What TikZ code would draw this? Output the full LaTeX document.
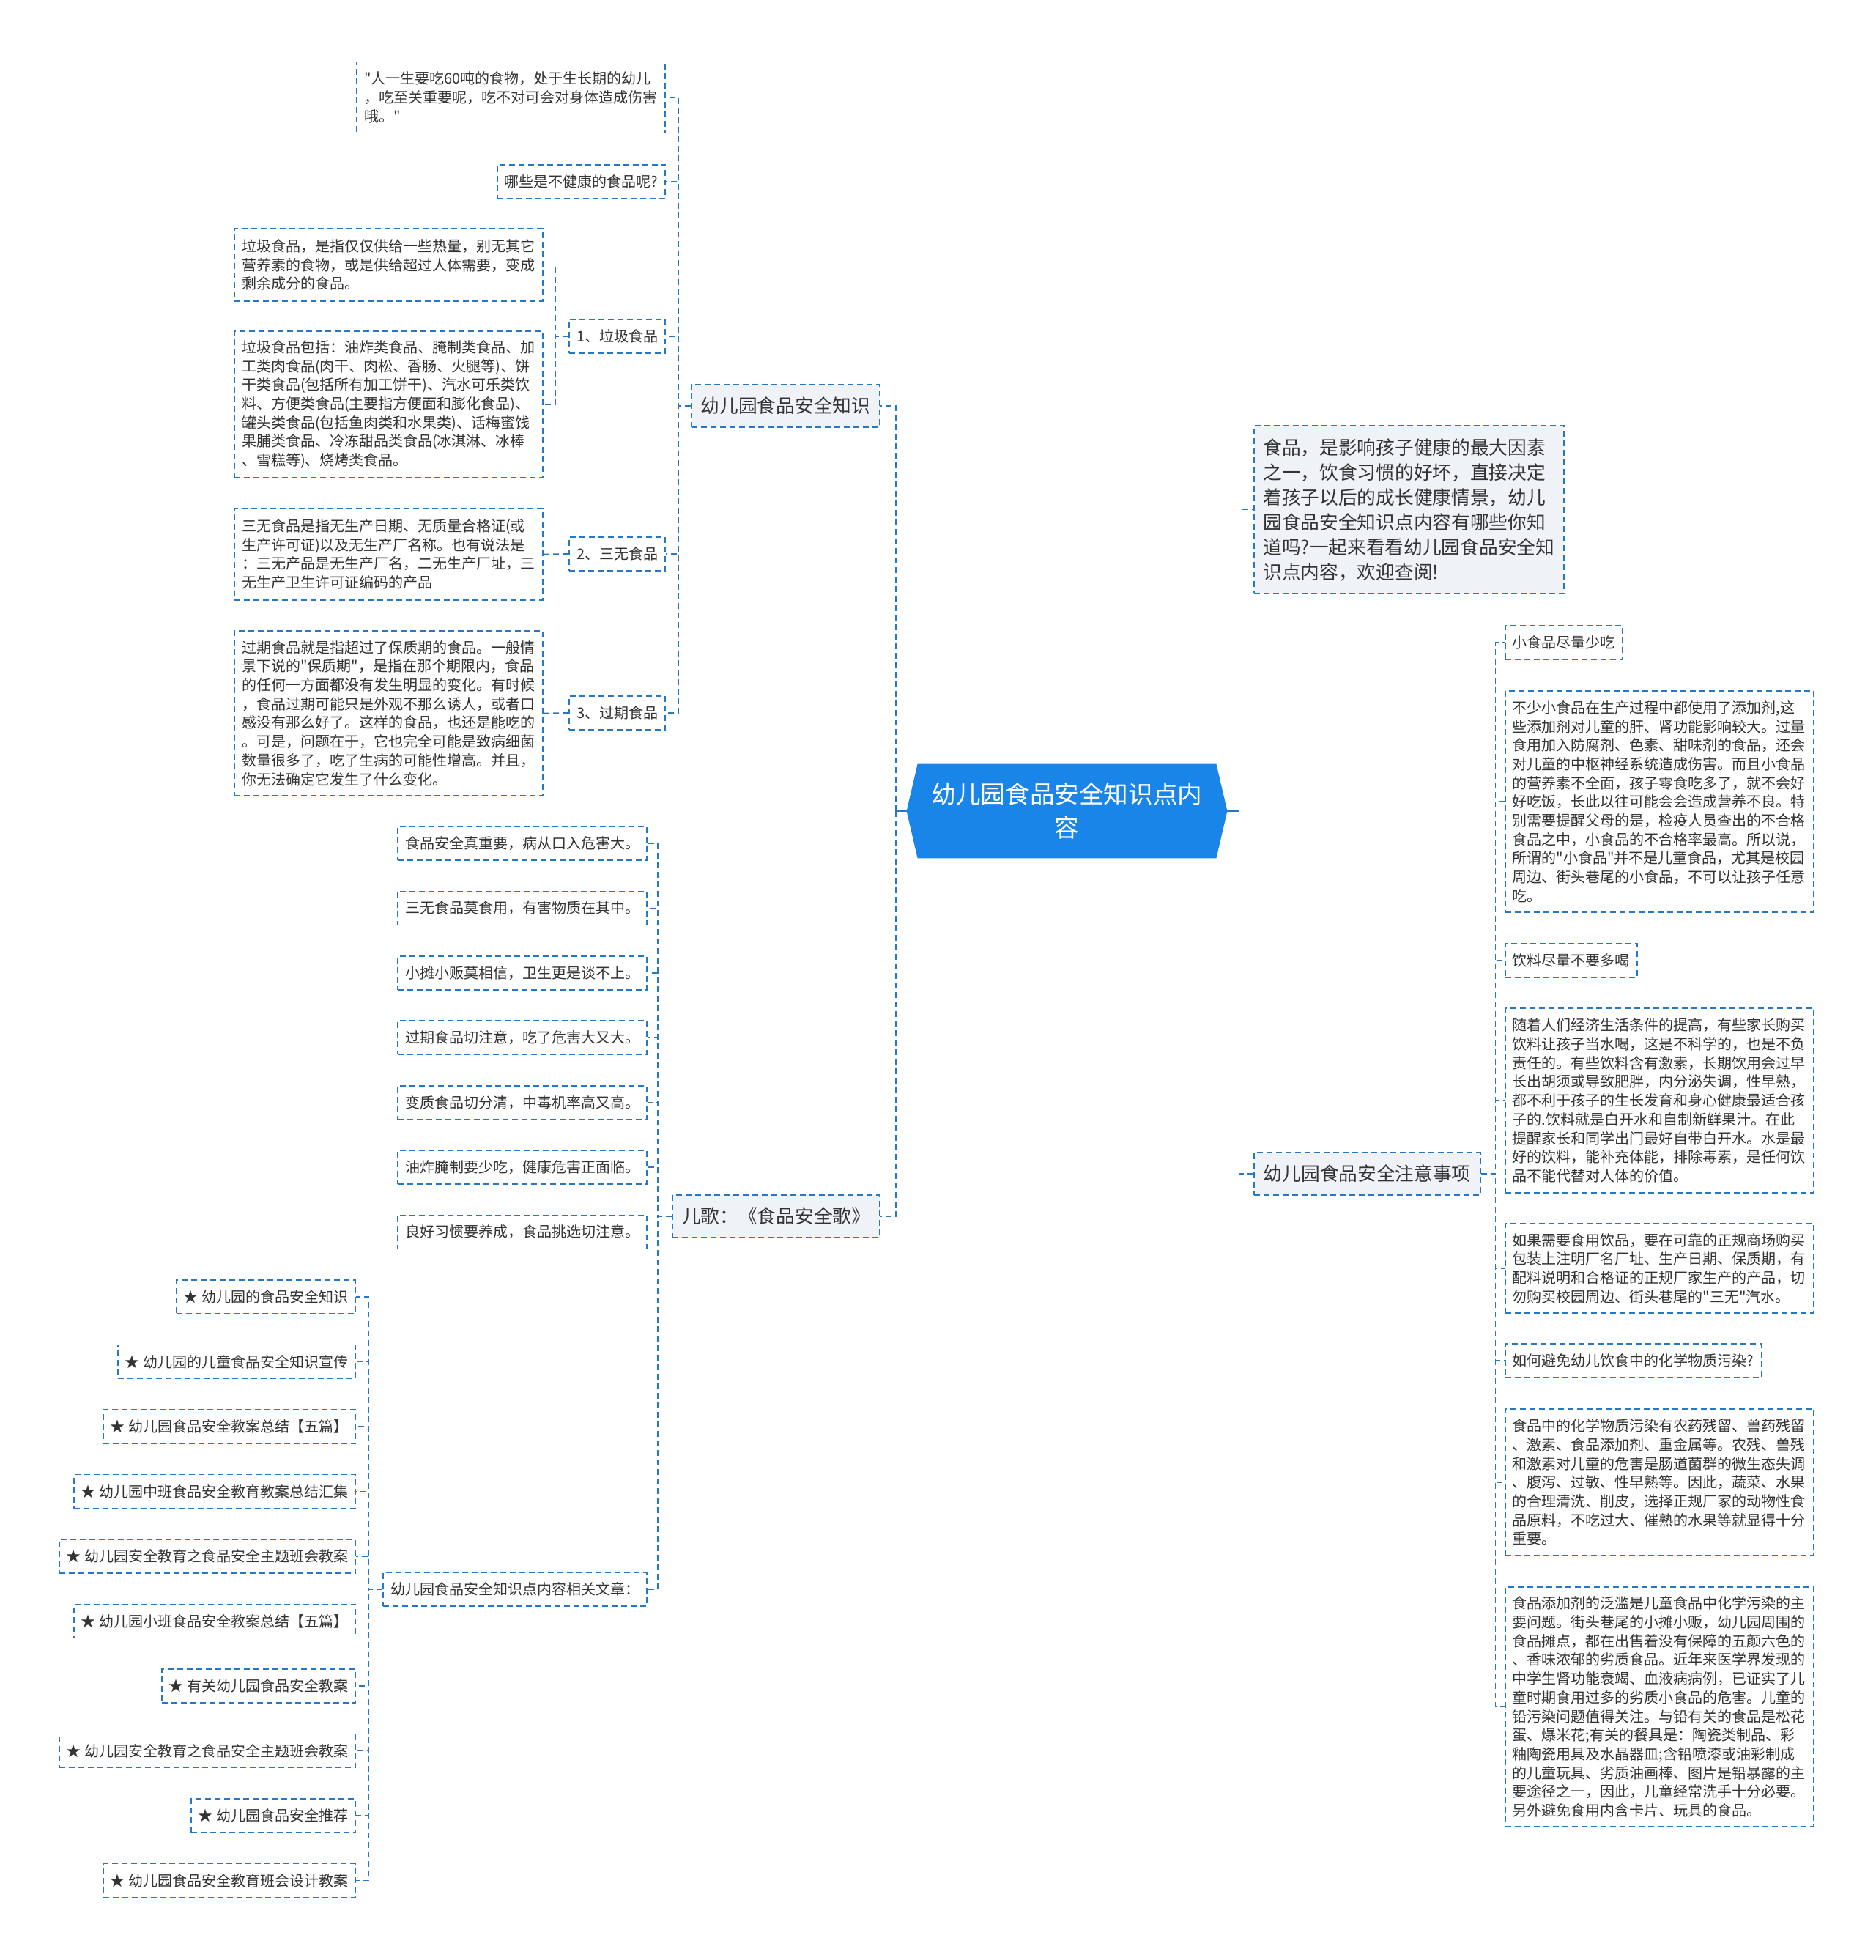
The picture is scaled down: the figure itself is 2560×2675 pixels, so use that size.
\documentclass[tikz,border=0pt]{standalone}
\usepackage{fontspec}
\setmainfont{Noto Sans CJK SC}[Ligatures=TeXOff]
\usetikzlibrary{backgrounds,calc}
\definecolor{lineBlue}  {RGB}{ 38,120,196}
\definecolor{hubBlue}   {RGB}{ 25,133,232}
\definecolor{branchFill}{RGB}{239,243,247}
\definecolor{inkGray}   {RGB}{ 51, 51, 51}
\newcommand\smalltext{\fontsize{10pt}{12.85pt}\selectfont}
\newcommand\midtext{\fontsize{12.85pt}{17pt}\selectfont}
\newcommand\hubtext{\fontsize{16.8pt}{23pt}\selectfont}
\tikzset{
  box/.style={draw=lineBlue, line width=0.9pt, dash pattern=on 4pt off 2.5pt,
    fill=white, text=inkGray, font=\smalltext, inner xsep=5pt, inner ysep=4pt,
    minimum height=23pt},
  para/.style={box, text width=200.5pt, align=left},
  branch/.style={box, fill=branchFill, font=\midtext, inner xsep=6.5pt,
    minimum height=29pt},
  hubnode/.style={text=white, font=\hubtext, align=center,
    minimum width=203.5pt, minimum height=64pt, inner sep=0pt},
  link/.style={draw=lineBlue, line width=0.9pt, dash pattern=on 4pt off 2.5pt},
  hubwire/.style={draw=lineBlue, line width=1pt},
}
\begin{document}
\begin{tikzpicture}[x=0.5pt,y=-0.5pt]
  \useasboundingbox (0,0) rectangle (2560,2675);

  % centre
  \node[hubnode] (hub) at (1456.5,1107) {幼儿园食品安全知识点内\\容};
  \coordinate (hubL) at ($(hub.west)+(-15,0)$);
  \coordinate (hubR) at ($(hub.east)+(15,0)$);
  \begin{scope}[on background layer]
    \fill[white] (0,0) rectangle (2560,2675);
    \fill[hubBlue] (hub.north west) -- (hub.north east) -- (hubR)
      -- (hub.south east) -- (hub.south west) -- (hubL) -- cycle;
  \end{scope}

  % left branches
  \node[branch,anchor=east] (know) at (1202,554) {幼儿园食品安全知识};
  \node[branch,anchor=east] (song) at (1202,1660) {儿歌：《食品安全歌》};

  \node[para,anchor=east,minimum height=48.5pt] (tQuote) at (909,133)
    {"人一生要吃60吨的食物，处于生长期的幼儿\\，吃至关重要呢，吃不对可会对身体造成伤害\\哦。"};
  \node[box,anchor=east] (tAsk) at (909,248) {哪些是不健康的食品呢?};
  \node[box,anchor=east] (tJunk) at (909,459) {1、垃圾食品};
  \node[box,anchor=east] (tThree) at (909,756) {2、三无食品};
  \node[box,anchor=east] (tStale) at (909,973) {3、过期食品};

  \node[para,anchor=east,minimum height=49.5pt] (junkDef) at (742,361.5)
    {垃圾食品，是指仅仅供给一些热量，别无其它\\营养素的食物，或是供给超过人体需要，变成\\剩余成分的食品。};
  \node[para,anchor=east,minimum height=100pt] (junkList) at (742,552)
    {垃圾食品包括：油炸类食品、腌制类食品、加\\工类肉食品(肉干、肉松、香肠、火腿等)、饼\\干类食品(包括所有加工饼干)、汽水可乐类饮\\料、方便类食品(主要指方便面和膨化食品)、\\罐头类食品(包括鱼肉类和水果类)、话梅蜜饯\\果脯类食品、冷冻甜品类食品(冰淇淋、冰棒\\、雪糕等)、烧烤类食品。};
  \node[para,anchor=east,minimum height=62.5pt] (threeDef) at (742,756.5)
    {三无食品是指无生产日期、无质量合格证(或\\生产许可证)以及无生产厂名称。也有说法是\\：三无产品是无生产厂名，二无生产厂址，三\\无生产卫生许可证编码的产品};
  \node[para,anchor=east,minimum height=112.5pt] (staleDef) at (742,973.5)
    {过期食品就是指超过了保质期的食品。一般情\\景下说的"保质期"，是指在那个期限内，食品\\的任何一方面都没有发生明显的变化。有时候\\，食品过期可能只是外观不那么诱人，或者口\\感没有那么好了。这样的食品，也还是能吃的\\。可是，问题在于，它也完全可能是致病细菌\\数量很多了，吃了生病的可能性增高。并且，\\你无法确定它发生了什么变化。};

  \foreach \verse [count=\i from 0] in {%
    {食品安全真重要，病从口入危害大。},
    {三无食品莫食用，有害物质在其中。},
    {小摊小贩莫相信，卫生更是谈不上。},
    {过期食品切注意，吃了危害大又大。},
    {变质食品切分清，中毒机率高又高。},
    {油炸腌制要少吃，健康危害正面临。},
    {良好习惯要养成，食品挑选切注意。}}
    \node[box,anchor=east] (verse\i) at (884,{1151+88.4*\i}) {\verse};
  \node[box,anchor=east] (links) at (884,2169) {幼儿园食品安全知识点内容相关文章：};

  \foreach \art [count=\j from 0] in {%
    {★ 幼儿园的食品安全知识},
    {★ 幼儿园的儿童食品安全知识宣传},
    {★ 幼儿园食品安全教案总结【五篇】},
    {★ 幼儿园中班食品安全教育教案总结汇集},
    {★ 幼儿园安全教育之食品安全主题班会教案},
    {★ 幼儿园小班食品安全教案总结【五篇】},
    {★ 有关幼儿园食品安全教案},
    {★ 幼儿园安全教育之食品安全主题班会教案},
    {★ 幼儿园食品安全推荐},
    {★ 幼儿园食品安全教育班会设计教案}}
    \node[box,anchor=east] (art\j) at (486,{1770+88.5*\j}) {\art};

  % right branches
  \node[branch,anchor=west,text width=199pt,align=left,inner xsep=6.25pt,
    minimum height=114.5pt] (intro) at (1711,695.5)
    {食品，是影响孩子健康的最大因素\\之一，饮食习惯的好坏，直接决定\\着孩子以后的成长健康情景，幼儿\\园食品安全知识点内容有哪些你知\\道吗?一起来看看幼儿园食品安全知\\识点内容，欢迎查阅!};
  \node[branch,anchor=west] (tips) at (1711,1602) {幼儿园食品安全注意事项};

  \node[box,anchor=west] (snack) at (2054,877) {小食品尽量少吃};
  \node[para,anchor=west,minimum height=151pt] (snackText) at (2054,1094)
    {不少小食品在生产过程中都使用了添加剂,这\\些添加剂对儿童的肝、肾功能影响较大。过量\\食用加入防腐剂、色素、甜味剂的食品，还会\\对儿童的中枢神经系统造成伤害。而且小食品\\的营养素不全面，孩子零食吃多了，就不会好\\好吃饭，长此以往可能会会造成营养不良。特\\别需要提醒父母的是，检疫人员查出的不合格\\食品之中，小食品的不合格率最高。所以说，\\所谓的"小食品"并不是儿童食品，尤其是校园\\周边、街头巷尾的小食品，不可以让孩子任意\\吃。};
  \node[box,anchor=west] (drink) at (2054,1311) {饮料尽量不要多喝};
  \node[para,anchor=west,minimum height=126pt] (drinkText) at (2054,1502)
    {随着人们经济生活条件的提高，有些家长购买\\饮料让孩子当水喝，这是不科学的，也是不负\\责任的。有些饮料含有激素，长期饮用会过早\\长出胡须或导致肥胖，内分泌失调，性早熟，\\都不利于孩子的生长发育和身心健康最适合孩\\子的.饮料就是白开水和自制新鲜果汁。在此\\提醒家长和同学出门最好自带白开水。水是最\\好的饮料，能补充体能，排除毒素，是任何饮\\品不能代替对人体的价值。};
  \node[para,anchor=west,minimum height=61pt] (buyText) at (2054,1731)
    {如果需要食用饮品，要在可靠的正规商场购买\\包装上注明厂名厂址、生产日期、保质期，有\\配料说明和合格证的正规厂家生产的产品，切\\勿购买校园周边、街头巷尾的"三无"汽水。};
  \node[box,anchor=west] (chem) at (2054,1857) {如何避免幼儿饮食中的化学物质污染?};
  \node[para,anchor=west,minimum height=100pt] (chemText) at (2054,2023)
    {食品中的化学物质污染有农药残留、兽药残留\\、激素、食品添加剂、重金属等。农残、兽残\\和激素对儿童的危害是肠道菌群的微生态失调\\、腹泻、过敏、性早熟等。因此，蔬菜、水果\\的合理清洗、削皮，选择正规厂家的动物性食\\品原料，不吃过大、催熟的水果等就显得十分\\重要。};
  \node[para,anchor=west,minimum height=163.5pt] (addText) at (2054,2329.5)
    {食品添加剂的泛滥是儿童食品中化学污染的主\\要问题。街头巷尾的小摊小贩，幼儿园周围的\\食品摊点，都在出售着没有保障的五颜六色的\\、香味浓郁的劣质食品。近年来医学界发现的\\中学生肾功能衰竭、血液病病例，已证实了儿\\童时期食用过多的劣质小食品的危害。儿童的\\铅污染问题值得关注。与铅有关的食品是松花\\蛋、爆米花;有关的餐具是：陶瓷类制品、彩\\釉陶瓷用具及水晶器皿;含铅喷漆或油彩制成\\的儿童玩具、劣质油画棒、图片是铅暴露的主\\要途径之一，因此，儿童经常洗手十分必要。\\另外避免食用内含卡片、玩具的食品。};

  % connectors
  \coordinate (trunkL) at ($(hubL)+(-15,0)$);
  \coordinate (trunkR) at ($(hubR)+(16,0)$);
  \draw[hubwire] (hubL) -- (trunkL);
  \draw[hubwire] (hubR) -- (trunkR);
  \foreach \n in {know,song}
    \draw[link] (trunkL) |- (\n.east);
  \foreach \n in {intro,tips}
    \draw[link] (trunkR) |- (\n.west);
  \foreach \n in {tQuote,tAsk,tJunk,tThree,tStale}
    \draw[link] (know.west) -- ++(-17,0) |- (\n.east);
  \foreach \n in {junkDef,junkList}
    \draw[link] (tJunk.west) -- ++(-18,0) |- (\n.east);
  \draw[link] (tThree.west) -- (threeDef.east);
  \draw[link] (tStale.west) -- (staleDef.east);
  \foreach \i in {0,...,6}
    \draw[link] (song.west) -- ++(-19,0) |- (verse\i.east);
  \draw[link] (song.west) -- ++(-19,0) |- (links.east);
  \foreach \j in {0,...,9}
    \draw[link] (links.west) -- ++(-19,0) |- (art\j.east);
  \foreach \n in {snack,snackText,drink,drinkText,buyText,chem,chemText,addText}
    \draw[link] (tips.east) -- ++(20,0) |- (\n.west);
\end{tikzpicture}
\end{document}
